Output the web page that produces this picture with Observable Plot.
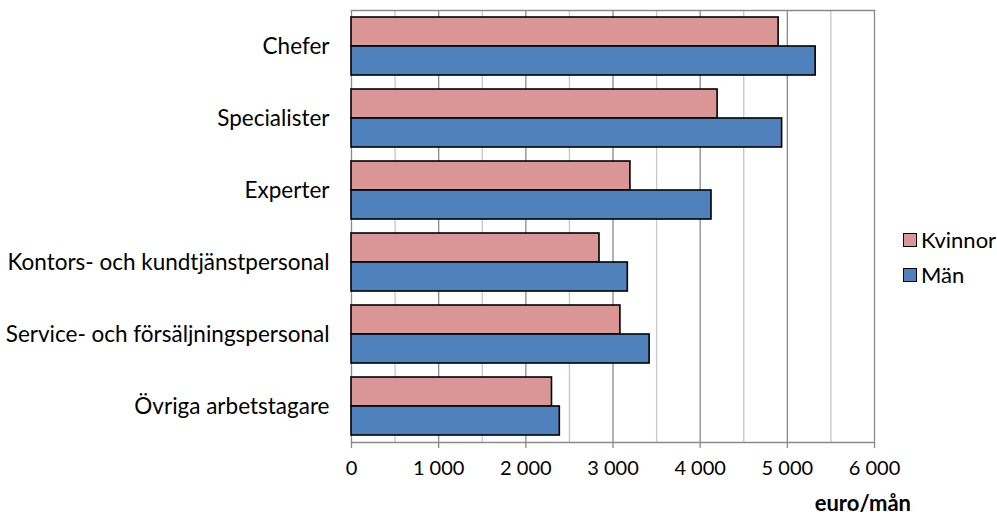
<!DOCTYPE html>
<html>
<head>
<meta charset="utf-8">
<script src="https://cdn.jsdelivr.net/npm/d3@7"></script>
<script src="https://cdn.jsdelivr.net/npm/@observablehq/plot@0.6"></script>
<style>
  html, body { margin: 0; padding: 0; background: #fff; }
  #wrap { position: relative; width: 997px; height: 519px; font-family: Lato, "Open Sans", sans-serif; }
  .leg { position: absolute; left: 903px; font-size: 22px; color: #000; display: flex; align-items: center; white-space: nowrap; }
  .sw { width: 12px; height: 12px; border: 1.5px solid #000; margin-right: 4px; }
  #unit { position: absolute; right: 86px; top: 489px; font-size: 22px; font-weight: bold; }
</style>
</head>
<body>
<div id="wrap"></div>
<script>
const categories = ["Chefer", "Specialister", "Experter", "Kontors- och kundtjänstpersonal", "Service- och försäljningspersonal", "Övriga arbetstagare"];
const series = ["Kvinnor", "Män"];
const kvinnor = [4900, 4200, 3200, 2845, 3085, 2300];
const man = [5325, 4940, 4130, 3170, 3420, 2390];
const colors = ["#D99694", "#4F81BD"];
const majorTicks = [0, 1000, 2000, 3000, 4000, 5000, 6000];
const minorTicks = [500, 1500, 2500, 3500, 4500, 5500];
const unitLabel = "euro/mån";

const rows = categories.flatMap((c, i) => [
  {cat: c, sex: series[0], value: kvinnor[i]},
  {cat: c, sex: series[1], value: man[i]}
]);

const fmt = d3.formatLocale({thousands: " ", grouping: [3], decimal: ","}).format(",");

const chart = Plot.plot({
  width: 997,
  height: 519,
  marginLeft: 351,
  marginRight: 123,
  marginTop: 10,
  marginBottom: 77,
  style: {fontFamily: "Lato, 'Open Sans', sans-serif", background: "#fff"},
  x: {domain: [0, 6000]},
  fy: {domain: categories, padding: 0},
  y: {domain: series, paddingInner: 0, paddingOuter: 0.24},
  color: {domain: series, range: colors},
  marks: [
    Plot.ruleX(minorTicks, {stroke: "#c6c6c6", strokeWidth: 1.3}),
    Plot.ruleX(majorTicks.slice(1), {stroke: "#8a8a8a", strokeWidth: 1.3}),
    Plot.frame({anchor: "top", facetAnchor: "top", stroke: "#8a8a8a", strokeWidth: 1.3}),
    Plot.frame({anchor: "bottom", facetAnchor: "bottom", stroke: "#8a8a8a", strokeWidth: 1.3}),
    Plot.ruleX([0], {stroke: "#8a8a8a", strokeWidth: 1.3}),
    Plot.barX(rows, {fy: "cat", y: "sex", x: "value", fill: "sex", stroke: "#000", strokeWidth: 1.6}),
    Plot.axisX({ticks: majorTicks, tickFormat: fmt, tickSize: 6, tickPadding: 12, stroke: "#8a8a8a", strokeWidth: 1.3, fontSize: 20, fill: "#000", label: null, facetAnchor: "bottom"}),
    Plot.axisY({ticks: [], label: null}),
    Plot.axisFy({anchor: "left", tickSize: 0, tickPadding: 22, fontSize: 22.5, fill: "#000", label: null})
  ]
});

const wrap = document.getElementById("wrap");
wrap.appendChild(chart);
series.forEach((s, i) => {
  const el = document.createElement("div");
  el.className = "leg";
  el.style.top = (226 + i * 35) + "px";
  el.innerHTML = `<div class="sw" style="background:${colors[i]}"></div><span>${s}</span>`;
  wrap.appendChild(el);
});
const u = document.createElement("div");
u.id = "unit";
u.textContent = unitLabel;
wrap.appendChild(u);
</script>
</body>
</html>
